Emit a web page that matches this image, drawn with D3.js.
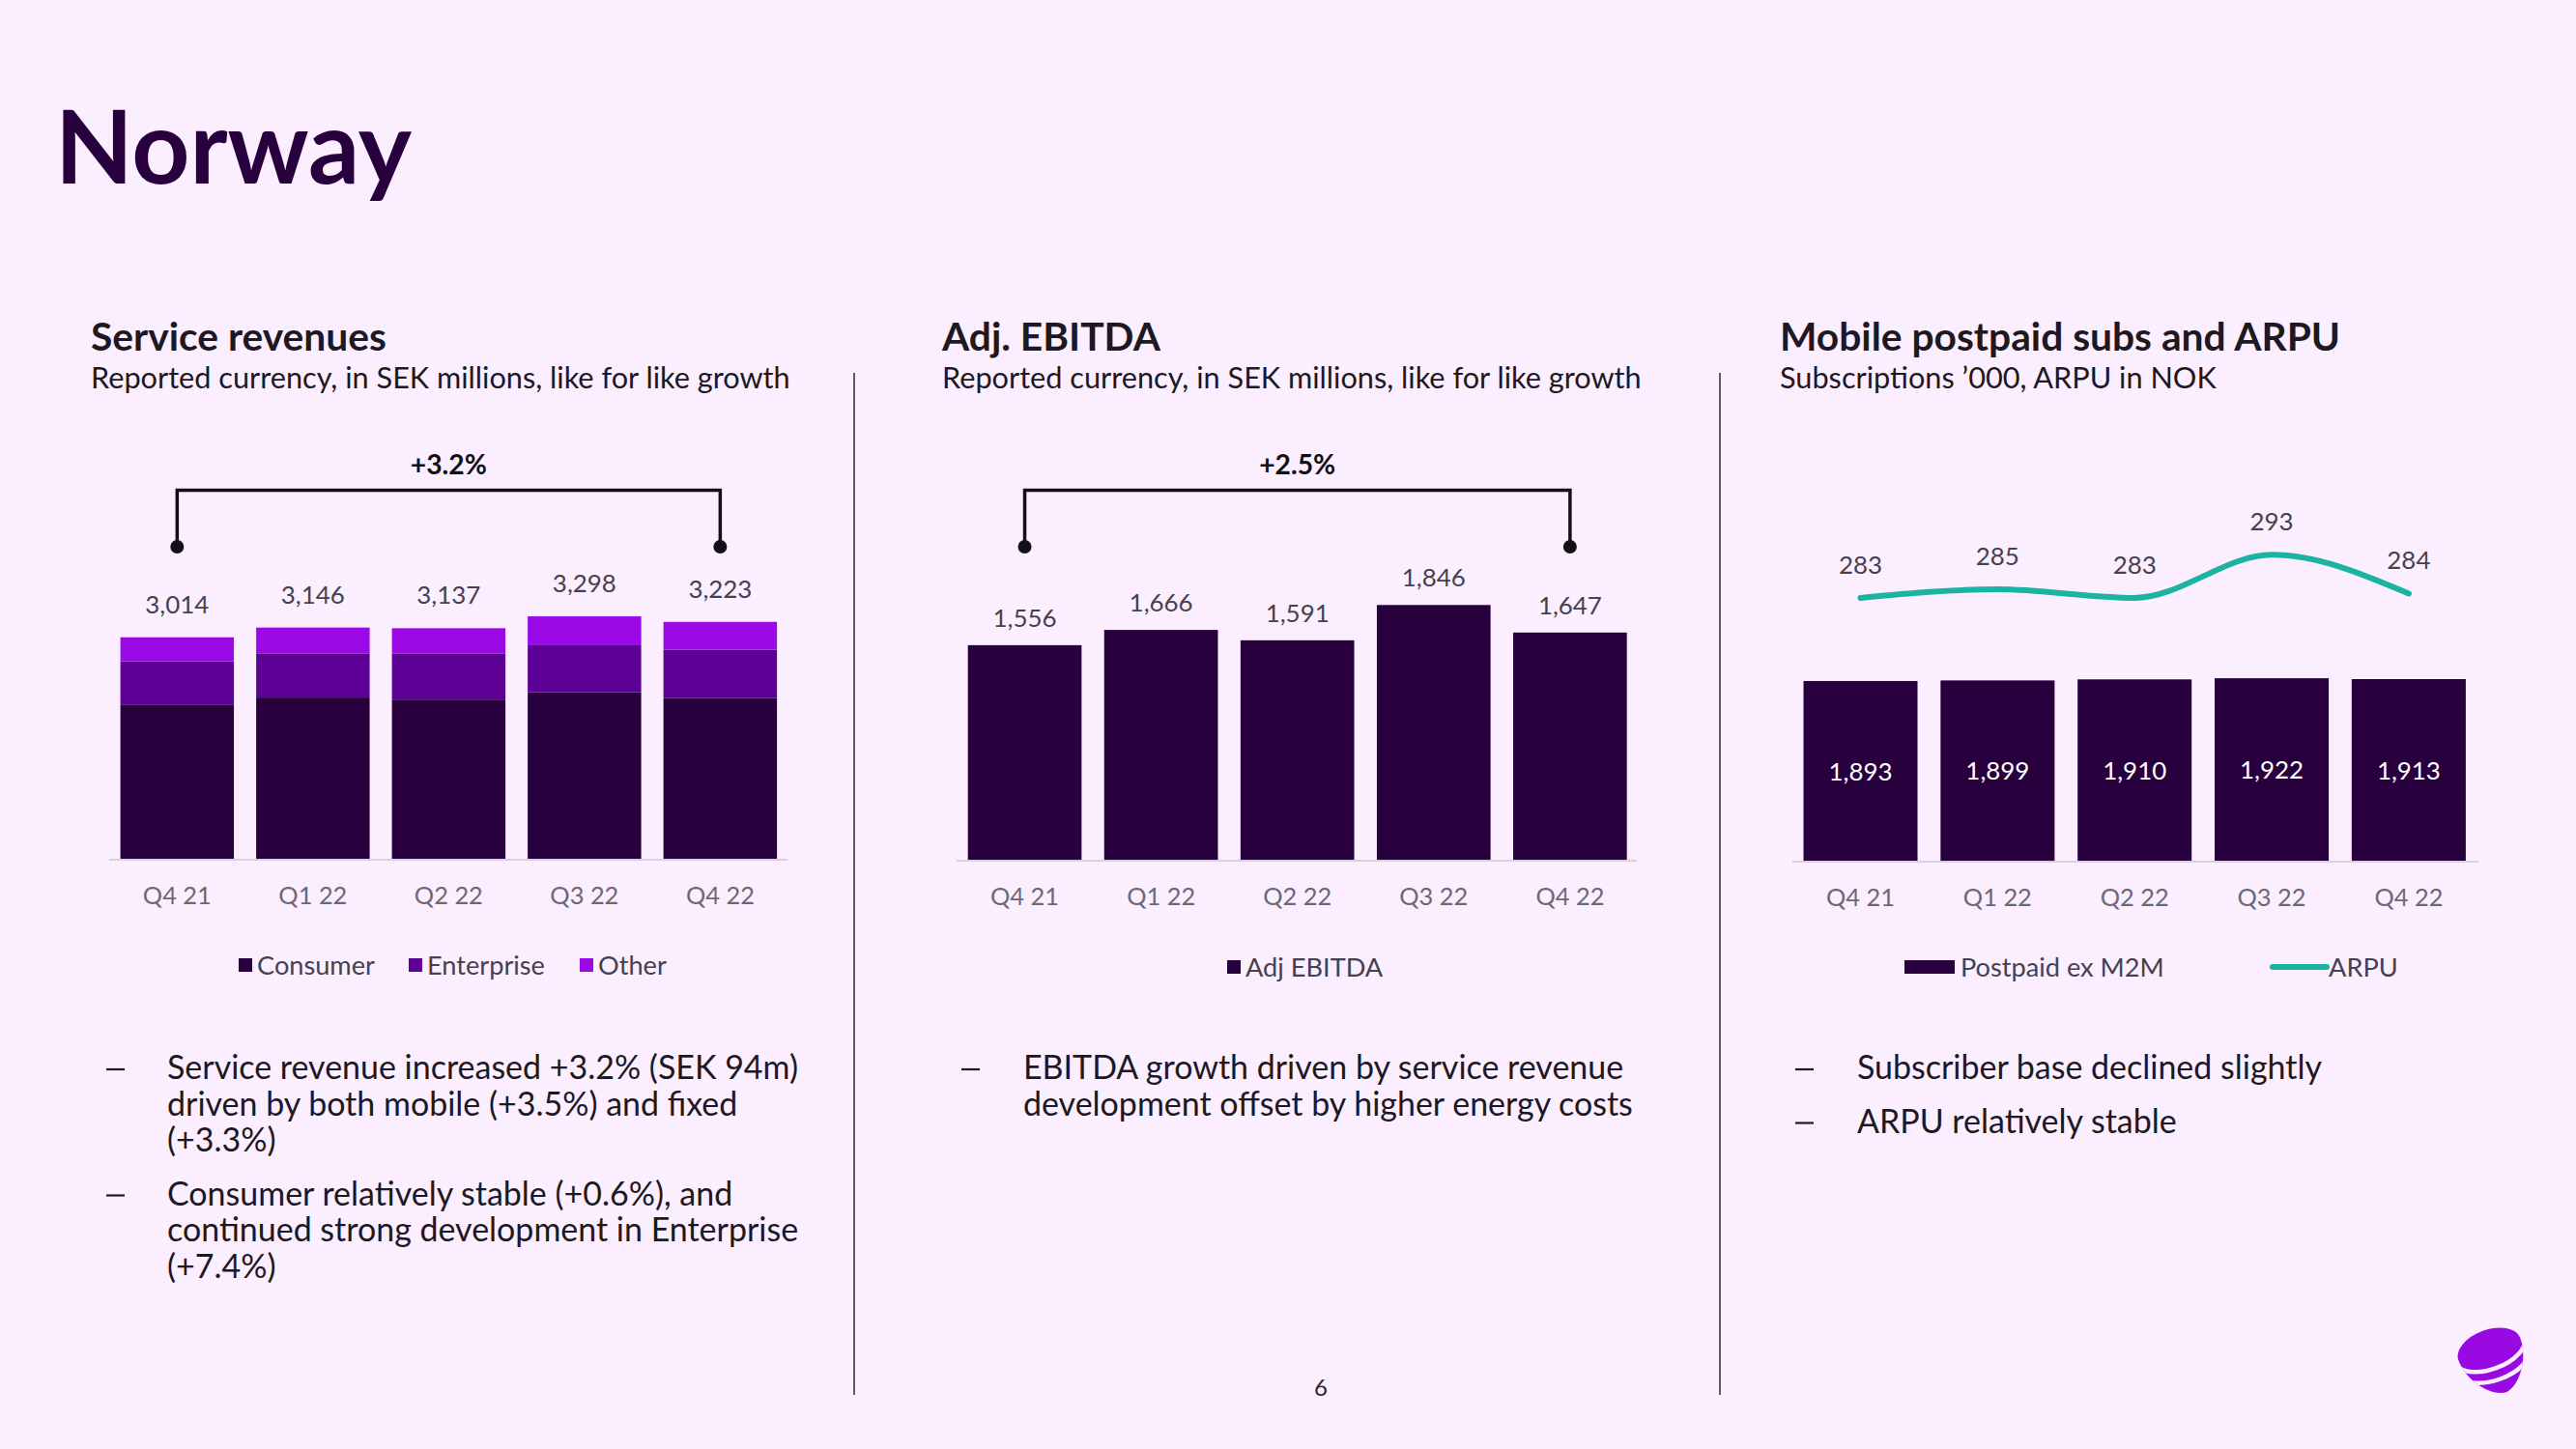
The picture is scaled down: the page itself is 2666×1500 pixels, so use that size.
<!DOCTYPE html>
<html><head><meta charset="utf-8">
<script src="https://cdn.jsdelivr.net/npm/d3@7"></script>
<style>html,body{margin:0;padding:0;background:#faeeff;}svg{display:block;}</style>
</head><body>
<svg id="c" width="2666" height="1500"></svg>
<script>
// ---------- DATA ----------
const quarters = ["Q4 21", "Q1 22", "Q2 22", "Q3 22", "Q4 22"];
const seriesNames = ["Consumer", "Enterprise", "Other"];
const consumer = [2104, 2198, 2170, 2268, 2193];
const enterprise = [584, 598, 626, 648, 653];
const other = [326, 350, 341, 382, 377];
const serviceTotals = [3014, 3146, 3137, 3298, 3223];
const ebitda = [1556, 1666, 1591, 1846, 1647];
const postpaid = [1893, 1899, 1910, 1922, 1913];
const arpu = [283, 285, 283, 293, 284];
const growthLabels = ["+3.2%", "+2.5%"];
const panelTitles = ["Service revenues", "Adj. EBITDA", "Mobile postpaid subs and ARPU"];
const panelSubtitles = ["Reported currency, in SEK millions, like for like growth",
  "Reported currency, in SEK millions, like for like growth",
  "Subscriptions \u2019000, ARPU in NOK"];
const bullets1 = [["Service revenue increased +3.2% (SEK 94m)", "driven by both mobile (+3.5%) and fixed", "(+3.3%)"],
  ["Consumer relatively stable (+0.6%), and", "continued strong development in Enterprise", "(+7.4%)"]];
const bullets2 = [["EBITDA growth driven by service revenue", "development offset by higher energy costs"]];
const bullets3 = [["Subscriber base declined slightly"], ["ARPU relatively stable"]];

// ---------- STYLE ----------
const FONT = "Lato, 'Open Sans', sans-serif";
const C_DARK = "#29003e", C_ENT = "#5c0096", C_OTHER = "#9b0ae6", C_TEAL = "#1cb3a2";
const C_VAL = "#46414d", C_TICK = "#6d6874", C_TEXT = "#1d1822";
const stackColors = [C_DARK, C_ENT, C_OTHER];

const svg = d3.select("#c");
svg.append("rect").attr("width", 2666).attr("height", 1500).attr("fill", "#faeeff");

function fitSize(text, weight, target) {
  const t = svg.append("text").attr("font-family", FONT).attr("font-weight", weight)
    .attr("font-size", 100).text(text);
  const w = t.node().getComputedTextLength();
  t.remove();
  return 100 * target / w;
}

const fsTick = fitSize("Q4 21", 400, 71);
const fsVal = fitSize("3,014", 400, 66);
const fsLeg = fitSize("Consumer", 400, 122);
const fsGrowth = fitSize("+3.2%", 700, 79);
const fsBullet = fitSize(bullets1[0][0], 400, 653);
const fsTitle = fitSize("Service revenues", 700, 306);
const fsSub = fitSize(panelSubtitles[0], 400, 724);
const fsMain = fitSize("Norway", 700, 369);

// Main title
svg.append("text").attr("x", 57).attr("y", 190).attr("font-family", FONT).attr("font-weight", 700)
  .attr("font-size", fsMain).attr("fill", C_DARK).text("Norway");

// Panel titles
const panelX = [94, 975, 1842];
panelTitles.forEach((t, i) => {
  svg.append("text").attr("x", panelX[i]).attr("y", 363).attr("font-family", FONT).attr("font-weight", 700)
    .attr("font-size", fsTitle).attr("fill", C_TEXT).text(t);
  svg.append("text").attr("x", panelX[i]).attr("y", 402).attr("font-family", FONT).attr("font-weight", 400)
    .attr("font-size", fsSub).attr("fill", C_TEXT).text(panelSubtitles[i]);
});

// Dividers
[884, 1780].forEach(x => svg.append("line").attr("x1", x).attr("x2", x).attr("y1", 386).attr("y2", 1444)
  .attr("stroke", "#3a3440").attr("stroke-width", 1.6));

// Helpers
function baseAxis(g, x, axisX0, axisX1, y0) {
  g.append("line").attr("x1", axisX0).attr("x2", axisX1).attr("y1", y0).attr("y2", y0)
    .attr("stroke", "#d8d0dc").attr("stroke-width", 2);
  const ax = g.append("g").attr("transform", `translate(0,${y0 + 46})`)
    .call(d3.axisBottom(x).tickSize(0).tickPadding(0));
  ax.select(".domain").remove();
  ax.selectAll("text").attr("font-family", FONT).attr("font-size", fsTick).attr("fill", C_TICK)
    .attr("dy", 0);
}
function bracket(g, xa, xb, label) {
  const yH = 507.5, yD = 566;
  g.append("path").attr("d", `M${xa},${yD}V${yH}H${xb}V${yD}`).attr("fill", "none")
    .attr("stroke", "#111015").attr("stroke-width", 3.5);
  [xa, xb].forEach(x => g.append("circle").attr("cx", x).attr("cy", yD).attr("r", 7).attr("fill", "#111015"));
  g.append("text").attr("x", (xa + xb) / 2).attr("y", 491).attr("text-anchor", "middle")
    .attr("font-family", FONT).attr("font-weight", 700).attr("font-size", fsGrowth).attr("fill", "#111015").text(label);
}
function bulletBlock(paras, dashX, textX) {
  let y = 1117;
  paras.forEach((lines) => {
    svg.append("line").attr("x1", dashX).attr("x2", dashX + 19).attr("y1", y - 10).attr("y2", y - 10)
      .attr("stroke", C_TEXT).attr("stroke-width", 2.2);
    lines.forEach((ln, li) => {
      svg.append("text").attr("x", textX).attr("y", y + li * 37.5).attr("font-family", FONT)
        .attr("font-size", fsBullet).attr("fill", C_TEXT).text(ln);
    });
    y += (lines.length - 1) * 37.5 + 55.5;
  });
}
function legendSquare(g, x, y, color, label, w, h) {
  g.append("rect").attr("x", x).attr("y", y - h / 2).attr("width", w).attr("height", h).attr("fill", color);
  g.append("text").attr("x", x + w + 5).attr("y", y).attr("dy", "0.35em").attr("font-family", FONT)
    .attr("font-size", fsLeg).attr("fill", C_VAL).text(label);
}

// ---------- Panel 1: stacked ----------
{
  const g = svg.append("g");
  const x = d3.scaleBand().domain(quarters).range([124.6, 804.1]).paddingInner(0.164).paddingOuter(0);
  const y = d3.scaleLinear().domain([0, 4000]).range([890, 584.4]);
  const rows = quarters.map((q, i) => ({ q, Consumer: consumer[i], Enterprise: enterprise[i], Other: other[i] }));
  const stack = d3.stack().keys(seriesNames)(rows);
  stack.forEach((s, si) => {
    g.append("g").selectAll("rect").data(s).join("rect")
      .attr("x", d => x(d.data.q)).attr("width", x.bandwidth())
      .attr("y", d => y(d[1])).attr("height", d => y(d[0]) - y(d[1])).attr("fill", stackColors[si]);
  });
  baseAxis(g, x, 113, 815, 890);
  g.selectAll(".vl").data(quarters).join("text")
    .attr("x", d => x(d) + x.bandwidth() / 2).attr("y", (d, i) => y(serviceTotals[i]) - 25)
    .attr("text-anchor", "middle").attr("font-family", FONT).attr("font-size", fsVal).attr("fill", C_VAL)
    .text((d, i) => d3.format(",")(serviceTotals[i]));
  bracket(g, x(quarters[0]) + x.bandwidth() / 2, x(quarters[4]) + x.bandwidth() / 2, growthLabels[0]);
  legendSquare(g, 247, 999, C_DARK, seriesNames[0], 14, 14);
  legendSquare(g, 423, 999, C_ENT, seriesNames[1], 14, 14);
  legendSquare(g, 600, 999, C_OTHER, seriesNames[2], 14, 14);
}

// ---------- Panel 2: EBITDA ----------
{
  const g = svg.append("g");
  const x = d3.scaleBand().domain(quarters).range([1001.7, 1683.7]).paddingInner(0.166).paddingOuter(0);
  const y = d3.scaleLinear().domain([0, 2000]).range([891, 604.2]);
  g.selectAll("rect.b").data(ebitda).join("rect").attr("class", "b")
    .attr("x", (d, i) => x(quarters[i])).attr("width", x.bandwidth())
    .attr("y", d => y(d)).attr("height", d => y(0) - y(d)).attr("fill", C_DARK);
  baseAxis(g, x, 990, 1694, 891);
  g.selectAll(".vl").data(ebitda).join("text")
    .attr("x", (d, i) => x(quarters[i]) + x.bandwidth() / 2).attr("y", d => y(d) - 19)
    .attr("text-anchor", "middle").attr("font-family", FONT).attr("font-size", fsVal).attr("fill", C_VAL)
    .text(d => d3.format(",")(d));
  bracket(g, x(quarters[0]) + x.bandwidth() / 2, x(quarters[4]) + x.bandwidth() / 2, growthLabels[1]);
  legendSquare(g, 1270, 1001, C_DARK, "Adj EBITDA", 14, 14);
}

// ---------- Panel 3: subs + ARPU ----------
{
  const g = svg.append("g");
  const x = d3.scaleBand().domain(quarters).range([1866.5, 2551.9]).paddingInner(0.168).paddingOuter(0);
  const y = d3.scaleLinear().domain([0, 2000]).range([892, 694.4]);
  const y2 = d3.scaleLinear().domain([270, 300]).range([676.9, 543.1]);
  g.selectAll("rect.b").data(postpaid).join("rect").attr("class", "b")
    .attr("x", (d, i) => x(quarters[i])).attr("width", x.bandwidth())
    .attr("y", d => y(d)).attr("height", d => y(0) - y(d)).attr("fill", C_DARK);
  baseAxis(g, x, 1855, 2565, 892);
  g.selectAll(".bl").data(postpaid).join("text")
    .attr("x", (d, i) => x(quarters[i]) + x.bandwidth() / 2).attr("y", d => (y(d) + y(0)) / 2)
    .attr("dy", "0.35em").attr("text-anchor", "middle").attr("font-family", FONT).attr("font-size", fsVal)
    .attr("fill", "#ffffff").text(d => d3.format(",")(d));
  const cx = (d, i) => x(quarters[i]) + x.bandwidth() / 2;
  const line = d3.line().x(cx).y(d => y2(d)).curve(d3.curveMonotoneX);
  g.append("path").datum(arpu).attr("d", line).attr("fill", "none").attr("stroke", C_TEAL)
    .attr("stroke-width", 6).attr("stroke-linecap", "round");
  g.selectAll(".al").data(arpu).join("text")
    .attr("x", cx).attr("y", d => y2(d) - 25).attr("text-anchor", "middle").attr("font-family", FONT)
    .attr("font-size", fsVal).attr("fill", C_VAL).text(d => d);
  // legend
  g.append("rect").attr("x", 1971).attr("y", 1001 - 7).attr("width", 52).attr("height", 14).attr("fill", C_DARK);
  g.append("text").attr("x", 2029).attr("y", 1001).attr("dy", "0.35em").attr("font-family", FONT)
    .attr("font-size", fsLeg).attr("fill", C_VAL).text("Postpaid ex M2M");
  g.append("line").attr("x1", 2352).attr("x2", 2408).attr("y1", 1001).attr("y2", 1001)
    .attr("stroke", C_TEAL).attr("stroke-width", 6).attr("stroke-linecap", "round");
  g.append("text").attr("x", 2410).attr("y", 1001).attr("dy", "0.35em").attr("font-family", FONT)
    .attr("font-size", fsLeg).attr("fill", C_VAL).text("ARPU");
}

// ---------- Bullets ----------
bulletBlock(bullets1, 110, 173);
bulletBlock(bullets2, 995, 1059);
bulletBlock(bullets3, 1858, 1922);

// Page number
svg.append("text").attr("x", 1367).attr("y", 1445).attr("text-anchor", "middle").attr("font-family", FONT)
  .attr("font-size", 24).attr("fill", "#2a2530").text("6");

// Logo
{
  const lg = svg.append("g").attr("transform", "translate(2579,1404) rotate(-20)");
  const body = "M-34,-8 A34,20 0 0 1 34,-8 C34,16 16,38 2,40 C-14,40 -34,16 -34,-8 Z";
  svg.append("defs").append("clipPath").attr("id", "logoClip").attr("transform", "translate(2579,1404) rotate(-20)")
    .append("path").attr("d", body);
  lg.append("path").attr("d", body).attr("fill", "#990ae3");
  lg.append("path").attr("d", "M-38,-7 A38,20 0 0 0 38,-7").attr("fill", "none").attr("stroke", "#faeeff")
    .attr("stroke-width", 4.5).attr("clip-path", "url(#logoClip2)");
  lg.append("path").attr("d", "M-38,6 A38,19 0 0 0 38,6").attr("fill", "none").attr("stroke", "#faeeff")
    .attr("stroke-width", 4.5).attr("clip-path", "url(#logoClip2)");
  lg.append("clipPath").attr("id", "logoClip2").append("path").attr("d", body);
}
</script>
</body></html>
